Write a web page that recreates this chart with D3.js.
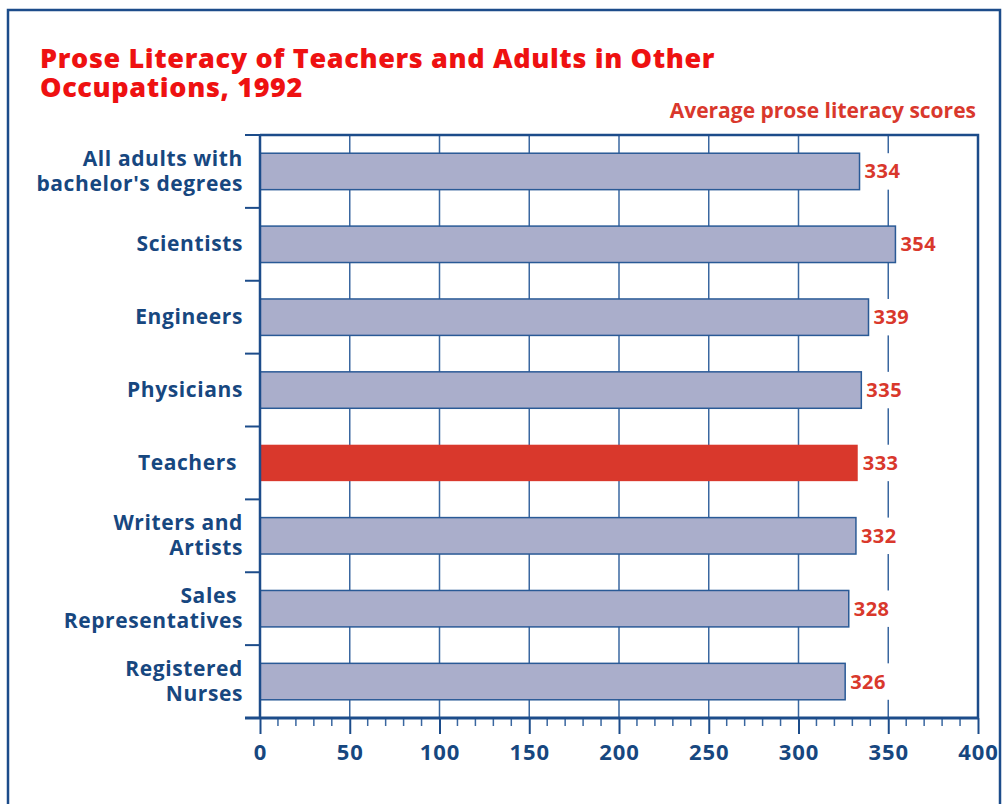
<!DOCTYPE html>
<html>
<head>
<meta charset="utf-8">
<script src="https://cdn.jsdelivr.net/npm/d3@7"></script>
<style>
  body { margin: 0; background: #fff; }
  text { font-family: "Open Sans", Lato, sans-serif; font-weight: bold; white-space: pre; }
</style>
</head>
<body>
<svg width="1006" height="804"></svg>
<script>
// data
var categories = [
    ["All adults with", "bachelor's degrees"],
    ["Scientists"],
    ["Engineers"],
    ["Physicians"],
    ["Teachers "],
    ["Writers and", "Artists"],
    ["Sales ", "Representatives"],
    ["Registered", "Nurses"]
];
var scores = [334, 354, 339, 335, 333, 332, 328, 326];
var highlight = 4; // Teachers
var xTicks = [0, 50, 100, 150, 200, 250, 300, 350, 400];

var navy = '#1c4c8a';
var red = '#d9382c';

var svg = d3.select('svg');

// outer frame
svg.append('rect')
    .attr('x', 8).attr('y', 10)
    .attr('width', 992).attr('height', 830)
    .attr('fill', 'none')
    .attr('stroke', navy)
    .attr('stroke-width', 2.5);

// title
var title = svg.append('text')
    .attr('x', 40).attr('y', 68)
    .attr('fill', '#ee1111')
    .style('font-size', '27px')
    .style('font-weight', 800)
    .style('letter-spacing', '0.65px');
title.append('tspan').attr('x', 40).text('Prose Literacy of Teachers and Adults in Other');
title.append('tspan').attr('x', 40).attr('dy', 29).text('Occupations, 1992');

svg.append('text')
    .attr('x', 976).attr('y', 118)
    .attr('text-anchor', 'end')
    .attr('fill', red)
    .style('font-size', '21px')
    .text('Average prose literacy scores');

var pLeft = 260, pRight = 978, pTop = 135, pBottom = 718;

var x = d3.scaleLinear().domain([0, 400]).range([pLeft, pRight]);
var y = d3.scaleBand()
    .domain(d3.range(categories.length))
    .range([pTop, pBottom])
    .paddingInner(0.5)
    .paddingOuter(0.25);
var step = y.step();

// vertical grid lines
svg.append('g')
    .selectAll('line')
    .data(xTicks.slice(1, -1)).enter()
    .append('line')
    .attr('x1', function(d) { return x(d); })
    .attr('x2', function(d) { return x(d); })
    .attr('y1', pTop)
    .attr('y2', pBottom)
    .attr('stroke', '#3a67a0')
    .attr('stroke-width', 1.5);

// category boundary ticks on the left
svg.append('g')
    .selectAll('line')
    .data(d3.range(categories.length + 1)).enter()
    .append('line')
    .attr('x1', pLeft - 15)
    .attr('x2', pLeft)
    .attr('y1', function(d) { return pTop + d * step; })
    .attr('y2', function(d) { return pTop + d * step; })
    .attr('stroke', navy)
    .attr('stroke-width', 2);

// bars
svg.append('g')
    .selectAll('rect')
    .data(scores).enter()
    .append('rect')
    .attr('x', x(0))
    .attr('y', function(d, i) { return y(i); })
    .attr('width', function(d) { return x(d) - x(0); })
    .attr('height', y.bandwidth())
    .attr('fill', function(d, i) { return i === highlight ? '#d9382c' : '#aaaecb'; })
    .attr('stroke', function(d, i) { return i === highlight ? 'none' : '#2a5a96'; })
    .attr('stroke-width', 1.5);

// value labels with white backing to break the grid
var vals = svg.append('g')
    .selectAll('g')
    .data(scores).enter()
    .append('g');

vals.append('rect')
    .attr('x', function(d) { return x(d) + 2; })
    .attr('y', function(d, i) { return y(i); })
    .attr('width', 42)
    .attr('height', y.bandwidth())
    .attr('fill', '#fff');

vals.append('text')
    .attr('x', function(d) { return x(d) + 5; })
    .attr('y', function(d, i) { return y(i) + y.bandwidth() / 2 + 7; })
    .attr('fill', red)
    .style('font-size', '20px')
    .style('letter-spacing', '0.5px')
    .text(function(d) { return d; });

// category labels
var cats = svg.append('g')
    .selectAll('text')
    .data(categories).enter()
    .append('text')
    .attr('text-anchor', 'end')
    .attr('fill', '#17477f')
    .style('font-size', '21px')
    .style('letter-spacing', '0.6px')
    .attr('y', function(d, i) {
        var c = y(i) + y.bandwidth() / 2 + 7;
        return d.length > 1 ? c - 12.5 : c;
    });
cats.selectAll('tspan')
    .data(function(d) { return d; }).enter()
    .append('tspan')
    .attr('x', 243)
    .attr('dy', function(d, j) { return j === 0 ? 0 : 25; })
    .text(function(d) { return d; });

// plot frame top and right
svg.append('path')
    .attr('d', 'M' + pLeft + ',' + pTop + 'H' + pRight + 'V' + pBottom)
    .attr('fill', 'none')
    .attr('stroke', navy)
    .attr('stroke-width', 2.5);

// left axis line
svg.append('line')
    .attr('x1', pLeft).attr('x2', pLeft)
    .attr('y1', pTop).attr('y2', pBottom)
    .attr('stroke', navy)
    .attr('stroke-width', 2.5);

// bottom axis
var xAxis = d3.axisBottom(x)
    .tickValues(xTicks)
    .tickSize(16)
    .tickPadding(10)
    .tickFormat(d3.format('d'));

var gx = svg.append('g')
    .attr('transform', 'translate(0,' + pBottom + ')')
    .call(xAxis);
gx.select('.domain').remove();
gx.selectAll('line').attr('stroke', navy).attr('stroke-width', 2);
gx.selectAll('text')
    .attr('fill', '#17477f')
    .style('font-size', '22px')
    .style('letter-spacing', '1px')
    .style('font-family', '"Open Sans", sans-serif')
    .style('font-weight', 'bold');

// minor ticks
svg.append('g')
    .selectAll('line')
    .data(d3.range(10, 400, 10).filter(function(d) { return d % 50 !== 0; })).enter()
    .append('line')
    .attr('x1', function(d) { return x(d); })
    .attr('x2', function(d) { return x(d); })
    .attr('y1', pBottom)
    .attr('y2', pBottom + 8)
    .attr('stroke', '#3a67a0')
    .attr('stroke-width', 1.5);

svg.append('line')
    .attr('x1', pLeft - 15).attr('x2', pRight + 1)
    .attr('y1', pBottom).attr('y2', pBottom)
    .attr('stroke', navy)
    .attr('stroke-width', 3);
</script>
</body>
</html>
